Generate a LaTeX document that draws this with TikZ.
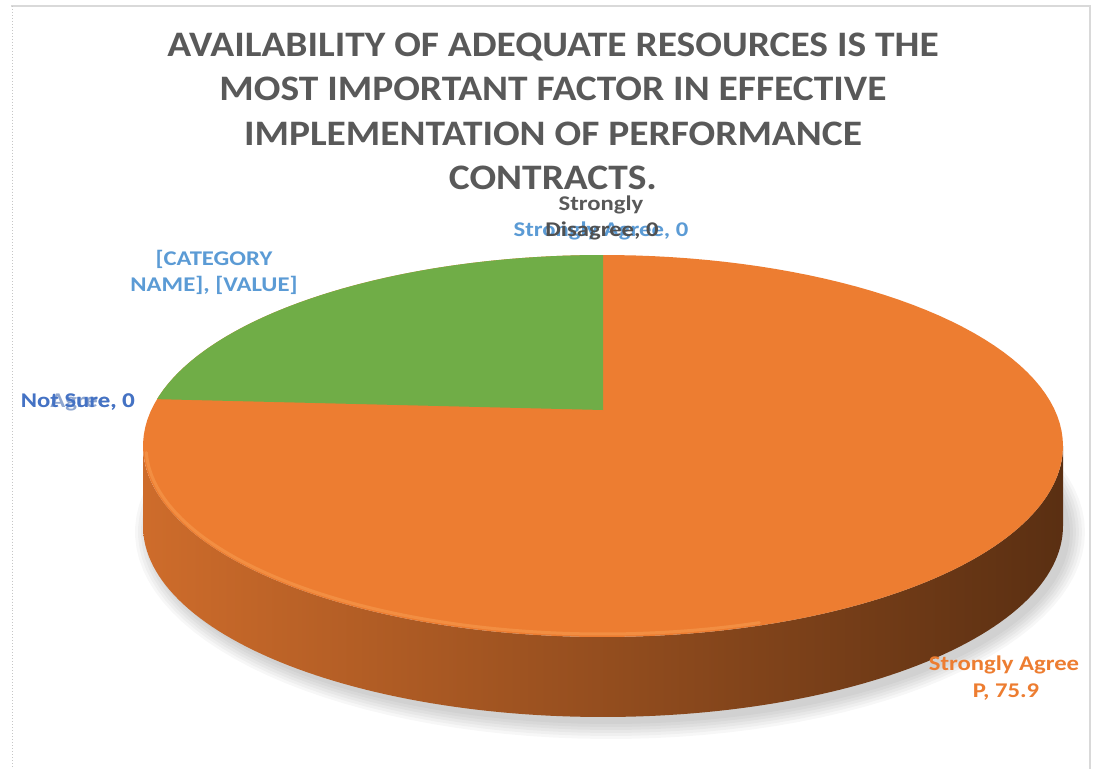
\documentclass[tikz,border=0pt]{standalone}
\usepackage{fontspec}
\setmainfont{Carlito}
\usepackage{graphicx}
\definecolor{pieorange}{HTML}{ED7D31}
\definecolor{pierim}{HTML}{F5964A}
\definecolor{piegreen}{HTML}{70AD47}
\definecolor{titlegray}{HTML}{595959}
\definecolor{lbldark}{HTML}{505050}
\definecolor{lblblue}{HTML}{5B9BD5}
\definecolor{lbldblue}{HTML}{4472C4}
\definecolor{lblgray}{HTML}{8FA6CF}
\definecolor{sideL}{HTML}{CE6C2B}
\definecolor{sideM}{HTML}{8E4C1E}
\definecolor{sideR}{HTML}{5A2F12}
\definecolor{framegray}{HTML}{D9D9D9}
\newcommand\txs[1]{\scalebox{1.1}[1]{#1}}
\newcommand\lbs[1]{\scalebox{1.18}[1]{#1}}
\begin{document}
\begin{tikzpicture}[x=1bp,y=-1bp,
  titletext/.style={inner sep=0pt, anchor=base, text=titlegray,
    font=\bfseries\fontsize{36}{44}\selectfont},
  lbl/.style={inner sep=0pt, anchor=base,
    font=\bfseries\fontsize{21}{26}\selectfont},
  shadowfill/.style={fill=black, opacity=0.03},
]
\useasboundingbox (0,0) rectangle (1093,769);
\fill[white] (0,0) rectangle (1093,769);
% frame
\draw[framegray, line width=2bp] (11,6) -- (1090,6) -- (1090,769);
\draw[gray!45, line width=1bp, dotted] (12,6) -- (12,769);

% shadow
\foreach \k in {0,1,2,3,4,5}{
  \fill[shadowfill] plot[domain=0:360, samples=120]
    ({610+(460+3*\k)*cos(\x)},{532+(192+3*\k)*sin(\x)});
}
% side of the pie
\shade[left color=sideL, middle color=sideM, right color=sideR]
  plot[domain=180:0, samples=120] ({603+460*cos(\x)},{526+191*sin(\x)})
  -- plot[domain=0:180, samples=120] ({603+460*cos(\x)},{446+191*sin(\x)})
  -- cycle;
% top face
\fill[pieorange] plot[domain=0:360, samples=160] ({603+460*cos(\x)},{446+191*sin(\x)}) -- cycle;
% rim highlight
\draw[pierim, line width=3bp, opacity=0.7, line cap=round]
  plot[domain=178:70, samples=100] ({603+457*cos(\x)},{446+188*sin(\x)});
% green slice
\coordinate (pc) at (603,410);
\fill[piegreen] (pc) -- plot[domain=270:194.2, samples=80] ({603+460*cos(\x)},{446+191*sin(\x)}) -- cycle;

% title
\node[titletext] (t1) at (553,57) {\txs{AVAILABILITY OF ADEQUATE RESOURCES IS THE}};
\node[titletext] (t2) at (553,101) {\txs{MOST IMPORTANT FACTOR IN EFFECTIVE}};
\node[titletext] (t3) at (553,145) {\txs{IMPLEMENTATION OF PERFORMANCE}};
\node[titletext] (t4) at (553,189) {\txs{CONTRACTS.}};

% labels
\node[lbl, text=lblblue] (sa0) at (601,236) {\lbs{Strongly Agree, 0}};
\node[lbl, text=titlegray] (sd1) at (601,210) {\lbs{Strongly}};
\node[lbl, text=lbldark] (sd2) at (602,236) {\lbs{Disagree, 0}};
\node[lbl, text=lblblue] (cat1) at (214,265) {\lbs{[CATEGORY}};
\node[lbl, text=lblblue] (cat2) at (214,291) {\lbs{NAME], [VALUE]}};
\node[lbl, text=lblgray, anchor=base east] (ag0) at (135,407) {\lbs{Agree, 0}};
\node[lbl, text=lbldblue, anchor=base east] (ns0) at (135,407) {\lbs{Not Sure, 0}};
\node[lbl, text=pieorange] (sap1) at (1004,670) {\lbs{Strongly Agree}};
\node[lbl, text=pieorange] (sap2) at (1006,697) {\lbs{P, 75.9}};
\end{tikzpicture}
\end{document}
